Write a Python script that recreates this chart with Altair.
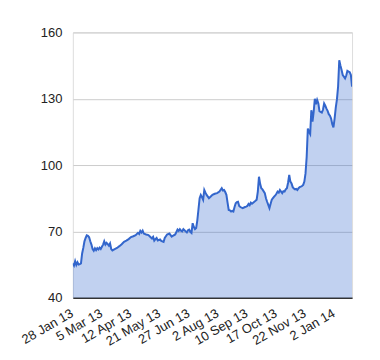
import altair as alt
import pandas as pd

# trading-day index of each reading and the price read at it
day_index = [0, 1, 2, 3, 4, 5, 6, 7, 8, 9, 10, 11, 12, 13, 14, 15, 16, 17, 18, 19,
             20, 21, 22, 23, 24, 25, 26, 27, 28, 29, 30, 31, 32, 33, 34, 36, 38, 40, 42, 44,
             46, 48, 50, 52, 54, 56, 57, 58, 59, 60, 61, 63, 65, 66, 68, 69, 70, 71, 72, 73,
             75, 76, 78, 79, 81, 83, 85, 86, 88, 90, 91, 92, 93, 94, 95, 96, 97, 98, 99, 100,
             101, 102, 103, 104, 105, 106, 107, 108, 109, 110, 111, 112, 113, 114, 115, 117, 119, 120, 122, 124,
             126, 128, 129, 130, 131, 132, 133, 134, 135, 136, 137, 138, 139, 140, 141, 142, 143, 144, 146, 148,
             149, 150, 151, 152, 153, 154, 156, 157, 158, 159, 160, 161, 162, 163, 165, 166, 167, 168, 169, 170,
             171, 172, 173, 174, 175, 176, 177, 178, 179, 180, 181, 182, 183, 184, 185, 186, 187, 188, 189, 190,
             191, 192, 193, 194, 195, 196, 197, 198, 199, 200, 201, 202, 203, 204, 205, 206, 207, 208, 209, 210,
             211, 212, 213, 214, 215, 216, 217, 218, 219, 220, 221, 222, 223, 224, 225, 226, 227, 228, 229, 230,
             231, 232, 233, 234, 235, 236, 237, 238, 239, 240]
price = [55.5, 54.5, 56.5, 54.8, 56, 55, 55.2, 55.5, 60, 62.5, 65.5, 67, 68.2, 68, 67.3, 65.5, 64, 62, 61.2, 62.3,
         61.5, 62.4, 61.8, 62.6, 62, 63, 64, 65.5, 64, 64.8, 64.2, 63.5, 64.5, 62, 61.4, 62, 62.5, 63.3, 64.2, 65.3,
         65.8, 66.5, 67.4, 67.8, 68.3, 69.3, 68.8, 70.2, 69.5, 70.3, 69, 68.6, 68.3, 67.8, 66.8, 67.5, 65.8, 66.5, 67, 65.9,
         66.3, 65.7, 65.2, 67, 68.6, 69, 67.6, 68, 68.6, 70.8, 70.2, 71, 70.3, 70, 71, 70.5, 70, 69.5, 70.5, 70.8,
         69.8, 69.3, 73.7, 72, 71, 71.5, 75, 80, 85, 86.5, 85.5, 84.3, 88.7, 87.5, 86.5, 85, 86, 86.5, 87, 87.3,
         88, 89.5, 88.5, 88.7, 87.8, 86.5, 83, 79.7, 79.5, 79, 79.3, 79, 81, 82.7, 83.2, 83.4, 81.5, 81, 80.5, 81,
         81.2, 81.5, 82.4, 81.8, 83, 82.5, 83.4, 83.8, 84.3, 88, 94.7, 91.5, 89.5, 89, 87.3, 85, 83.4, 82, 80.5, 82.5,
         84.3, 85, 85.7, 86.3, 87, 88, 87.5, 88.7, 88, 87.3, 88.2, 88, 89, 89.5, 92, 95.5, 92.5, 91.7, 90, 89.4,
         89, 89.2, 88.7, 89.5, 90, 90.2, 90.5, 91, 92.5, 96.2, 103.7, 116.5, 115, 114, 124.8, 119.6, 124, 130, 127.5, 129.5,
         128, 124.4, 124, 123.7, 125, 127.8, 126.8, 125.5, 124.5, 123, 122.3, 121, 118.5, 117, 121, 126, 129.7, 135.5, 147.4, 145,
         143, 140.7, 140, 139.2, 140.5, 142.6, 142.3, 142, 140.7, 135.5]

tick_index = [0, 25, 50, 75, 100, 125, 150, 175, 200, 225]
tick_labels = ["28 Jan 13", "5 Mar 13", "12 Apr 13", "21 May 13", "27 Jun 13",
               "2 Aug 13", "10 Sep 13", "17 Oct 13", "22 Nov 13", "2 Jan 14"]
y_ticks = [40, 70, 100, 130, 160]

df = pd.DataFrame({"i": day_index, "v": price})

label_arr = "[" + ",".join("'" + s + "'" for s in tick_labels) + "]"
label_expr = label_arr + "[round(datum.value / 25)]"

FONT = "Liberation Sans"

x = alt.X("i:Q", scale=alt.Scale(domain=[0, 240], nice=False, zero=False),
          axis=alt.Axis(values=tick_index, labelExpr=label_expr, labelAngle=-30,
                        labelAlign="right", labelBaseline="top", labelPadding=9, labelOffset=-4,
                        ticks=False, grid=False, domainColor="#333333", domainWidth=1.5,
                        labelFont=FONT, labelFontSize=13, labelColor="#222222",
                        title=None, labelOverlap=False, labelFlush=False, labelBound=False))
y = alt.Y("v:Q", scale=alt.Scale(domain=[40, 160], nice=False, zero=False),
          axis=alt.Axis(values=y_ticks, ticks=False, domain=False, gridColor="#cccccc",
                        labelFont=FONT, labelFontSize=13, labelColor="#222222",
                        labelPadding=11, title=None, labelOverlap=False))

base = alt.Chart(df).encode(x=x, y=y)
area = base.mark_area(color="#3366cc", opacity=0.3, clip=True)
line = base.mark_line(color="#3366cc", strokeWidth=2, clip=True)

chart = (area + line).properties(
    width=280, height=266,
    autosize=alt.AutoSizeParams(type="none"),
    padding={"left": 65, "top": 24, "right": 20, "bottom": 50},
).configure_view(stroke=None).configure(background="white")

chart.save("out.html", embed_options={"renderer": "svg", "actions": False})
